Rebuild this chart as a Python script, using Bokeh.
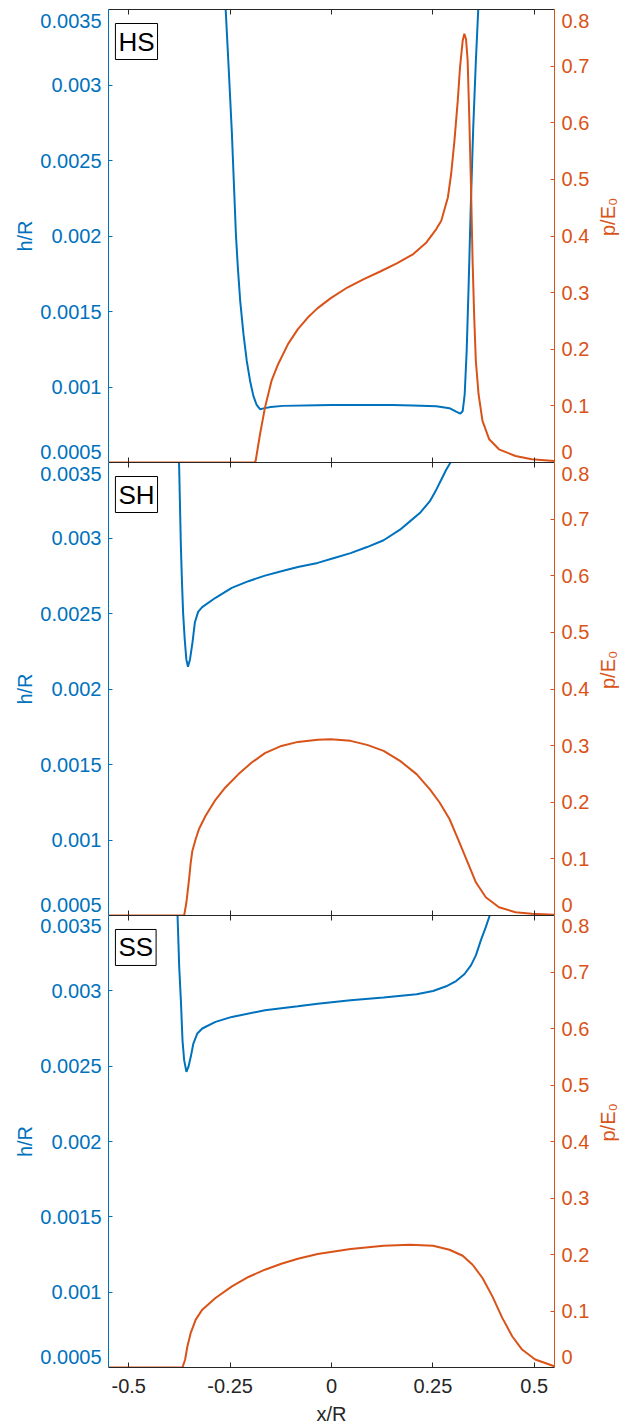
import math
from bokeh.plotting import figure
from bokeh.models import Range1d, LinearAxis, FixedTicker, CustomJSTickFormatter, Label
from bokeh.layouts import column
from bokeh.embed import file_html
from bokeh.resources import INLINE

# ---------------- data ----------------
panel_names = ["HS", "SH", "SS"]

x_ticks = [-0.5, -0.25, 0.0, 0.25, 0.5]
x_tick_labels = ["-0.5", "-0.25", "0", "0.25", "0.5"]
h_ticks = [0.0005, 0.001, 0.0015, 0.002, 0.0025, 0.003, 0.0035]
h_tick_labels = ["0.0005", "0.001", "0.0015", "0.002", "0.0025", "0.003", "0.0035"]
p_ticks = [0.0, 0.1, 0.2, 0.3, 0.4, 0.5, 0.6, 0.7, 0.8]
p_tick_labels = ["0", "0.1", "0.2", "0.3", "0.4", "0.5", "0.6", "0.7", "0.8"]

# HS : film thickness h/R and pressure p/E0
hs_h_x = [-0.264, -0.261, -0.2537, -0.2456, -0.2407, -0.2358, -0.231, -0.2252, -0.2171, -0.209,
          -0.2008, -0.1927, -0.1846, -0.1763, -0.1642, -0.15, -0.12, -0.0341, 0.0, 0.05, 0.15,
          0.2, 0.2585, 0.291, 0.3073, 0.3179, 0.3236, 0.3285, 0.3334, 0.3383, 0.3439, 0.3496,
          0.3561, 0.3618, 0.366]
hs_h = [0.0037, 0.0035, 0.003118, 0.002676, 0.002344, 0.002013, 0.001792, 0.001571, 0.00135,
        0.001173, 0.00104, 0.000941, 0.000881, 0.000853, 0.00086, 0.000868, 0.000875, 0.000879,
        0.00088, 0.00088, 0.00088, 0.000878, 0.000872, 0.00086, 0.000837, 0.000824, 0.000841,
        0.000952, 0.001239, 0.001681, 0.002234, 0.00272, 0.003162, 0.003493, 0.0037]
hs_p_x = [-0.55, -0.19, -0.1871, -0.1763, -0.1641, -0.148, -0.1317, -0.1073, -0.0829, -0.0585,
          -0.0341, -0.0017, 0.039, 0.0798, 0.1202, 0.161, 0.2017, 0.2341, 0.2585, 0.2707, 0.287,
          0.2951, 0.3032, 0.3114, 0.317, 0.3236, 0.3276, 0.3317, 0.3358, 0.3398, 0.3439, 0.348,
          0.352, 0.356, 0.3627, 0.3724, 0.389, 0.413, 0.4537, 0.494, 0.5495]
hs_p = [0.0, 0.0, 0.0027, 0.0499, 0.0969, 0.1441, 0.1736, 0.209, 0.2355, 0.256, 0.2726, 0.2903,
        0.309, 0.3239, 0.3373, 0.3515, 0.3681, 0.3886, 0.4123, 0.427, 0.468, 0.5095, 0.568,
        0.639, 0.698, 0.745, 0.757, 0.748, 0.71, 0.61, 0.492, 0.356, 0.256, 0.1795, 0.1206,
        0.0734, 0.041, 0.0233, 0.0115, 0.0057, 0.0027]

# SH
sh_h_x = [-0.378, -0.376, -0.3715, -0.369, -0.366, -0.362, -0.358, -0.354, -0.349, -0.343,
          -0.337, -0.329, -0.319, -0.286, -0.246, -0.2049, -0.164, -0.1237, -0.083, -0.0341,
          0.0065, 0.047, 0.0878, 0.1285, 0.169, 0.1934, 0.2178, 0.2422, 0.2585, 0.2707, 0.2829,
          0.2935, 0.30]
sh_h = [0.0037, 0.0035, 0.002945, 0.002725, 0.002504, 0.002328, 0.002196, 0.002147, 0.002196,
        0.002306, 0.00244, 0.002511, 0.002542, 0.002604, 0.00267, 0.002714, 0.002751, 0.00278,
        0.002808, 0.002835, 0.002868, 0.0029, 0.00294, 0.002985, 0.003055, 0.00311, 0.003165,
        0.003242, 0.00332, 0.003386, 0.003452, 0.0035, 0.0037]
sh_p_x = [-0.55, -0.3634, -0.3578, -0.3512, -0.3471, -0.3431, -0.3349, -0.3268, -0.3105, -0.2861,
          -0.2618, -0.2293, -0.1968, -0.1642, -0.1237, -0.0829, -0.0341, -0.0016, 0.047, 0.0878,
          0.1285, 0.169, 0.2098, 0.2422, 0.2666, 0.291, 0.3154, 0.3358, 0.3561, 0.3805, 0.413,
          0.4537, 0.494, 0.5495]
sh_p = [0.0, 0.0, 0.0234, 0.0647, 0.094, 0.1145, 0.1351, 0.1527, 0.1762, 0.2044, 0.2261, 0.2497,
        0.2701, 0.2867, 0.2995, 0.3066, 0.3105, 0.3113, 0.3084, 0.3013, 0.2907, 0.2731, 0.2497,
        0.2233, 0.1996, 0.1704, 0.1292, 0.0939, 0.0587, 0.0322, 0.0146, 0.0058, 0.003, 0.0012]

# SS
ss_h_x = [-0.382, -0.3797, -0.3756, -0.3715, -0.3675, -0.3634, -0.3578, -0.3529, -0.3471,
          -0.3407, -0.3309, -0.3187, -0.2862, -0.2456, -0.1642, -0.0829, -0.0341, 0.047, 0.1285,
          0.2098, 0.2505, 0.2829, 0.3073, 0.3276, 0.3439, 0.3561, 0.3683, 0.3805, 0.3902, 0.395]
ss_h = [0.0037, 0.0035, 0.003158, 0.002937, 0.002672, 0.00254, 0.002462, 0.002495, 0.002562,
        0.00265, 0.002717, 0.00275, 0.002794, 0.002827, 0.002871, 0.002898, 0.002915, 0.002937,
        0.002955, 0.002977, 0.002999, 0.00303, 0.003065, 0.00311, 0.003169, 0.003235, 0.003335,
        0.003423, 0.0035, 0.00356]
ss_p_x = [-0.55, -0.3675, -0.361, -0.3553, -0.3471, -0.3349, -0.3187, -0.2862, -0.2456, -0.2049,
          -0.1642, -0.1237, -0.0829, -0.0341, 0.047, 0.1285, 0.1934, 0.2505, 0.291, 0.3236,
          0.348, 0.3724, 0.3968, 0.4212, 0.4456, 0.47, 0.5024, 0.5495]
ss_p = [0.0, 0.0, 0.0141, 0.0376, 0.0613, 0.0848, 0.1024, 0.1231, 0.1436, 0.1602, 0.1731, 0.1837,
        0.1925, 0.2008, 0.2096, 0.2155, 0.2172, 0.2155, 0.2084, 0.1978, 0.1819, 0.1584, 0.1259,
        0.0878, 0.0553, 0.0318, 0.0141, 0.0023]

# ---------------- style / layout ----------------
BLUE = "#0072BD"
ORANGE = "#D95319"
DARK = "#262626"
FONT = "Liberation Sans"
X_RANGE = (-0.55, 0.55)
H_RANGE = (0.0005, 0.0035)
P_RANGE = (0.0, 0.8)
FRAME_W = 451
FRAME_H = 453
LEFT, RIGHT, TOP, BOTTOM = 108, 74, 9, 59
EDGE_SHIFT_PX = 11
TICK_FS = "20px"


def shifted(ticks, rng):
    d = EDGE_SHIFT_PX * (rng[1] - rng[0]) / FRAME_H
    out = list(ticks)
    out[0] = ticks[0] + d
    out[-1] = ticks[-1] - d
    return out


def style_y_axis(ax, color, label):
    ax.axis_line_color = color
    ax.axis_line_width = 1
    ax.major_tick_line_color = None
    ax.major_tick_in = 0
    ax.major_tick_out = 0
    ax.minor_tick_line_color = color
    ax.minor_tick_in = 4
    ax.minor_tick_out = 0
    ax.major_label_text_color = color
    ax.major_label_text_font = FONT
    ax.major_label_text_font_size = TICK_FS
    ax.major_label_standoff = 7
    ax.axis_label = label
    ax.axis_label_text_color = color
    ax.axis_label_text_font = FONT
    ax.axis_label_text_font_size = TICK_FS
    ax.axis_label_text_font_style = "normal"


def make_panel(name, hx, hv, px, pv, first, last):
    height = FRAME_H + (TOP if first else 0) + (BOTTOM if last else 0)
    p = figure(width=633, height=height, x_range=Range1d(*X_RANGE), y_range=Range1d(*H_RANGE),
               output_backend="svg", toolbar_location=None,
               x_axis_location=None, y_axis_location=None,
               min_border_left=LEFT, min_border_right=RIGHT,
               min_border_top=TOP if first else 0, min_border_bottom=BOTTOM if last else 0)
    p.extra_y_ranges = {"p": Range1d(*P_RANGE)}
    p.outline_line_color = None
    p.grid.visible = False
    p.background_fill_color = "white"
    p.border_fill_color = "white"

    yl = LinearAxis(ticker=FixedTicker(ticks=shifted(h_ticks, H_RANGE), minor_ticks=h_ticks[1:-1]),
                    formatter=CustomJSTickFormatter(args=dict(labels=h_tick_labels),
                                                    code="return labels[index]"))
    style_y_axis(yl, BLUE, "h/R")
    yl.axis_label_standoff = 1
    p.add_layout(yl, "left")

    yr = LinearAxis(y_range_name="p",
                    ticker=FixedTicker(ticks=shifted(p_ticks, P_RANGE), minor_ticks=p_ticks[1:-1]),
                    formatter=CustomJSTickFormatter(args=dict(labels=p_tick_labels),
                                                    code="return labels[index]"))
    style_y_axis(yr, ORANGE, "p/E\u2080")
    yr.axis_label_standoff = 16
    try:
        yr.axis_label_orientation = math.pi / 2
    except Exception:
        pass
    p.add_layout(yr, "right")

    for side in ("above", "below"):
        ax = LinearAxis(ticker=FixedTicker(ticks=x_ticks),
                        formatter=CustomJSTickFormatter(args=dict(labels=x_tick_labels),
                                                        code="return labels[index]"))
        ax.axis_line_color = DARK
        ax.axis_line_width = 1
        ax.major_tick_line_color = DARK
        ax.major_tick_in = 5
        ax.major_tick_out = 0
        ax.minor_tick_line_color = None
        ax.major_label_text_font = FONT
        if last and side == "below":
            ax.major_label_text_color = DARK
            ax.major_label_text_font_size = TICK_FS
            ax.major_label_standoff = 11
            ax.axis_label = "x/R"
            ax.axis_label_text_font = FONT
            ax.axis_label_text_font_size = TICK_FS
            ax.axis_label_text_font_style = "normal"
            ax.axis_label_text_color = DARK
            ax.axis_label_standoff = 7
        else:
            ax.major_label_text_color = None
            ax.major_label_text_font_size = "1px"
            ax.major_label_standoff = 0
        p.add_layout(ax, side)

    p.line(hx, hv, line_color=BLUE, line_width=2)
    p.line(px, pv, line_color=ORANGE, line_width=2, y_range_name="p")

    lab = Label(x=X_RANGE[0] + 7 * (X_RANGE[1] - X_RANGE[0]) / FRAME_W,
                y=H_RANGE[1] - 14 * (H_RANGE[1] - H_RANGE[0]) / FRAME_H,
                text=name, text_align="left", text_baseline="top",
                text_font=FONT, text_font_size="26px", text_color="black",
                border_line_color="black", border_line_width=1,
                background_fill_color="white", padding=3)
    p.add_layout(lab)
    return p


p1 = make_panel(panel_names[0], hs_h_x, hs_h, hs_p_x, hs_p, True, False)
p2 = make_panel(panel_names[1], sh_h_x, sh_h, sh_p_x, sh_p, False, False)
p3 = make_panel(panel_names[2], ss_h_x, ss_h, ss_p_x, ss_p, False, True)

layout = column(p1, p2, p3, spacing=0)
open("out.html", "w").write(file_html(layout, INLINE, "h and p profiles"))
